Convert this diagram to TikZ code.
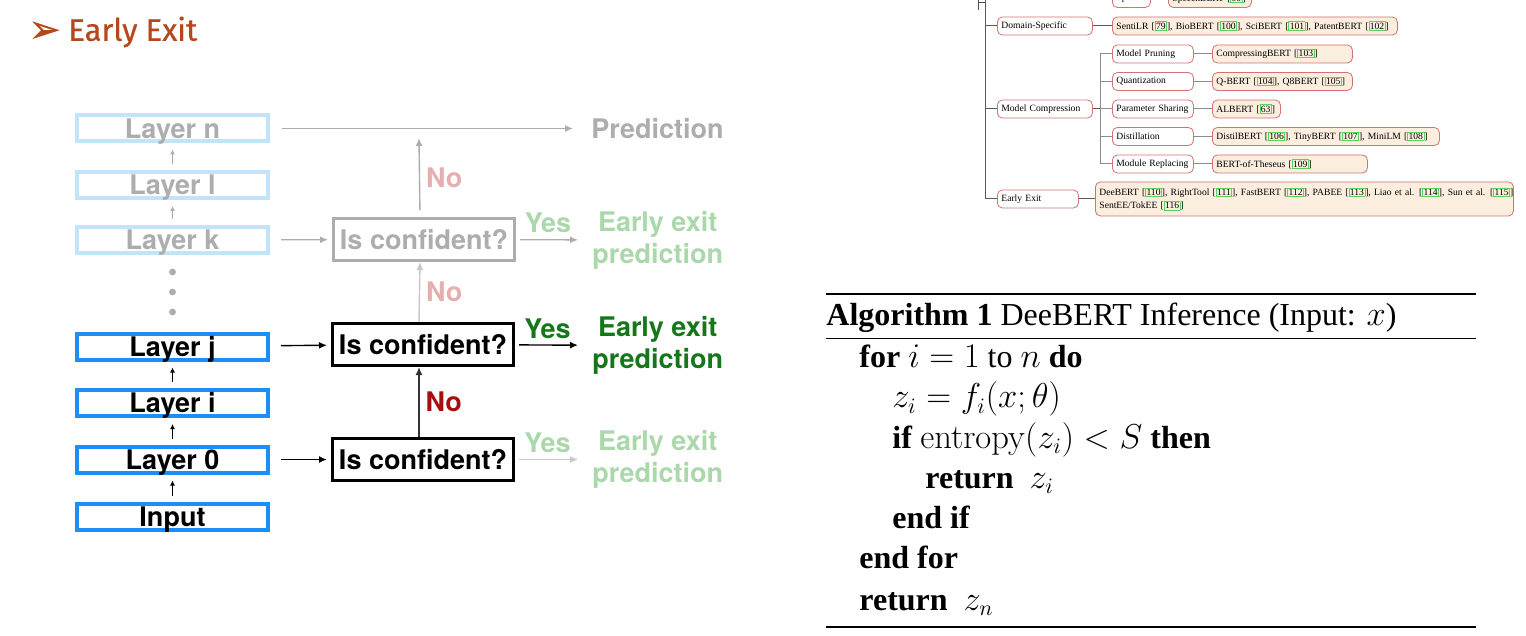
\documentclass[tikz,border=0pt]{standalone}
\usepackage{amssymb,amsmath}
\usepackage[no-math]{fontspec}
\setmainfont{Liberation Serif}
\newfontfamily\heros{TeX Gyre Heros}
\newfontfamily\titlefont[FakeBold=0.5]{Fira Sans}
\newfontfamily\dingfont[FakeBold=1]{DejaVu Sans}
\usetikzlibrary{positioning,arrows.meta}
\definecolor{layerblue}{HTML}{1C8EF5}
\definecolor{fadeblue}{HTML}{C2E3FA}
\definecolor{fadegray}{HTML}{ADADAD}
\definecolor{lightline}{HTML}{C8C8C8}
\definecolor{yesgreen}{HTML}{16761A}
\definecolor{fadegreen}{HTML}{ABD8AB}
\definecolor{nored}{HTML}{A50F0F}
\definecolor{fadered}{HTML}{E6AFAF}
\definecolor{titleorange}{HTML}{B5471B}
\definecolor{treered}{HTML}{D27272}
\definecolor{leaffill}{HTML}{FBEEDF}
\definecolor{linkgreen}{HTML}{55D455}
\newcommand\bigsans{\heros\bfseries\fontsize{13.5}{16}\selectfont}
\newcommand\treefont{\fontsize{4.8}{6.8}\selectfont}
\newcommand\algfont{\fontsize{16}{20}\selectfont}
\newcommand\refnum[1]{[{\setlength\fboxsep{0.3pt}\setlength\fboxrule{0.35pt}\color{linkgreen}\fbox{\color{black}#1}}]}

\begin{document}
\begin{tikzpicture}[x=0.5pt, y=-0.5pt,
  layer/.style={draw=layerblue, line width=2pt, minimum width=95.5pt, minimum height=13pt, inner sep=0pt,
                text height=9.7pt, text depth=0pt, font=\bigsans},
  fadelayer/.style={layer, draw=fadeblue, text=fadegray},
  check/.style={draw=black, line width=1.5pt, minimum width=90.5pt, minimum height=21pt, inner sep=0pt,
                text height=9.7pt, text depth=0pt, font=\bigsans},
  fadecheck/.style={check, draw=fadegray, text=fadegray},
  word/.style={inner sep=0pt, font=\bigsans},
  arr/.style={-{Latex[length=4pt,width=3.5pt]}, line width=0.7pt},
  uparr/.style={-{Latex[length=2.5pt,width=2.5pt]}, line width=0.6pt, shorten <=3pt, shorten >=3pt},
  cat/.style={draw=treered, line width=0.4pt, rounded corners=2.5pt, fill=white, font=\treefont,
              minimum height=9pt, inner xsep=2pt, inner ysep=0pt, anchor=west, text width=#1, align=left},
  leaf/.style={cat=#1, fill=leaffill},
  trunk/.style={draw=black!65, line width=0.5pt},
  twig/.style={draw=black!45, line width=0.5pt},
  algline/.style={anchor=base west, inner sep=0pt, font=\algfont}
]
\useasboundingbox (0,0) rectangle (1526,636);
\clip (0,0) rectangle (1526,636);
\fill[white] (0,0) rectangle (1526,636);

% title
\node[anchor=west, inner sep=0pt, text=titleorange, font=\titlefont\fontsize{15.5}{15.5}\selectfont] (title) at (68,32) {Early Exit};
\node[left=3.5pt of title, inner sep=0pt, text=titleorange, font=\dingfont\fontsize{19}{19}\selectfont] (bullet) {➢};

% layer stack
\node[fadelayer] (ln) at (172.5,128.5) {Layer n};
\node[fadelayer] (ll) at (172.5,185) {Layer l};
\node[fadelayer] (lk) at (172.5,240) {Layer k};
\node[layer] (lj) at (172.5,346.5) {Layer j};
\node[layer] (li) at (172.5,403) {Layer i};
\node[layer] (l0) at (172.5,459.5) {Layer 0};
\node[layer] (lin) at (172.5,516.5) {Input};
\draw[uparr, fadegray] (ll) -- (ln);
\draw[uparr, fadegray] (lk) -- (ll);
\draw[uparr] (li) -- (lj);
\draw[uparr] (l0) -- (li);
\draw[uparr] (lin) -- (l0);
\foreach \y in {272,292,312}
  \fill[fadegray] (172.5,\y) circle (1.7pt);

% exits
\node[fadecheck] (ck) at (424,239.5) {Is confident?};
\node[check] (cj) at (423,344.5) {Is confident?};
\node[check] (c0) at (423,459.5) {Is confident?};
\node[word, anchor=west, text=fadegray] (pred) at (591,128.5) {Prediction};
\node[word, anchor=west, align=center, text=fadegreen] (ek) at (592,240) {Early exit\\prediction};
\node[word, anchor=west, align=center, text=yesgreen] (ej) at (592,345.5) {Early exit\\prediction};
\node[word, anchor=west, align=center, text=fadegreen] (e0) at (592,459.5) {Early exit\\prediction};
\coordinate (nostop) at (419,138);

\draw[arr, fadegray, shorten <=6pt, shorten >=9pt] (ln) -- (pred);
\draw[arr, fadegray, shorten <=5.5pt, shorten >=2pt] (lk) -- (ck);
\draw[arr, shorten <=5.5pt, shorten >=2pt] (lj) -- (cj);
\draw[arr, shorten <=5.5pt, shorten >=2pt] (l0) -- (c0);

\draw[arr, fadegray, shorten <=3.5pt] ([xshift=-2pt]ck.north) -- (nostop)
  node[midway, right=3pt, word, text=fadered] {No};
\draw[arr, lightline] ([xshift=-2pt]cj.north) -- ([xshift=-2pt]ck.south)
  node[midway, right=3pt, word, text=fadered] {No};
\draw[arr, black!80] ([xshift=-2pt]c0.north) -- ([xshift=-2pt]cj.south)
  node[midway, right=3pt, word, text=nored] {No};

\draw[arr, fadegray, shorten <=2pt, shorten >=7pt] (ck) -- (ek)
  node[midway, above=3pt, word, xshift=-3pt, text=fadegreen] {Yes};
\draw[arr, shorten <=2pt, shorten >=7pt] (cj) -- (ej)
  node[midway, above=3pt, word, xshift=-3pt, text=yesgreen] {Yes};
\draw[arr, lightline, shorten <=2pt, shorten >=7pt] (c0) -- (e0)
  node[midway, above=3pt, word, xshift=-3pt, text=fadegreen] {Yes};

% taxonomy
\coordinate (stem) at (985,0);
\coordinate (fork) at (1100,0);
\draw[draw=black!70, line width=0.5pt] (978,0) -- (978,10) (978,3) -- (985,3);
\node[cat=15pt] (sp) at (1112,-1.5) {Speech};
\node[leaf=37.5pt] (spb) at (1168,-1.5) {\mbox{SpeechBERT \refnum{99}}};
\node[cat=43.5pt] (ds) at (997,26) {Domain-Specific};
\node[leaf=138.5pt] (dsl) at (1112,26) {\mbox{SentiLR \refnum{79}, BioBERT \refnum{100}, SciBERT \refnum{101}, PatentBERT \refnum{102}}};
\node[cat=43.5pt] (mc) at (997,109) {Model Compression};
\node[cat=36.5pt] (mp) at (1112,54) {Model Pruning};
\node[cat=36.5pt] (qz) at (1112,81.5) {Quantization};
\node[cat=36.5pt] (ps) at (1112,109) {\mbox{Parameter Sharing}};
\node[cat=36.5pt] (dt) at (1112,136.5) {Distillation};
\node[cat=36.5pt] (mr) at (1112,164) {\mbox{Module Replacing}};
\node[leaf=66pt] (mpl) at (1212,54) {\mbox{CompressingBERT \refnum{103}}};
\node[leaf=66pt] (qzl) at (1212,81.5) {\mbox{Q-BERT \refnum{104}, Q8BERT \refnum{105}}};
\node[leaf=30pt] (psl) at (1212,109) {\mbox{ALBERT \refnum{63}}};
\node[leaf=109.5pt] (dtl) at (1212,136.5) {\mbox{DistilBERT \refnum{106}, TinyBERT \refnum{107}, MiniLM \refnum{108}}};
\node[leaf=73.5pt] (mrl) at (1212,164) {\mbox{BERT-of-Theseus \refnum{109}}};
\node[cat=36.5pt] (ee) at (997,199) {Early Exit};
\node[leaf=205pt, minimum height=17pt] (eel) at (1095,199) {\mbox{DeeBERT \refnum{110}, RightTool \refnum{111}, FastBERT \refnum{112}, PABEE \refnum{113}, Liao et al. \refnum{114}, Sun et al. \refnum{115}}\\SentEE/TokEE \refnum{116}};

\draw[trunk] (stem) |- (ee.west);
\draw[trunk] (stem |- ds) -- (ds.west);
\draw[trunk] (stem |- mc) -- (mc.west);
\draw[trunk] (ds) -- (dsl);
\draw[trunk] (ee) -- (eel);
\draw[trunk] (mc.east) -- (fork |- mc);
\draw[twig] (mp.west) -| (fork |- mr) -- (mr.west);
\draw[twig] (fork |- qz) -- (qz.west);
\draw[twig] (fork |- ps) -- (ps.west);
\draw[twig] (fork |- dt) -- (dt.west);
\draw[twig] (mp) -- (mpl);
\draw[twig] (qz) -- (qzl);
\draw[twig] (ps) -- (psl);
\draw[twig] (dt) -- (dtl);
\draw[twig] (mr) -- (mrl);

% algorithm
\draw[line width=1pt] (826,294) -- (1476,294);
\draw[line width=0.5pt] (826,338) -- (1476,338);
\draw[line width=1pt] (826,627) -- (1476,627);
\node[algline] (acap) at (826,326) {\textbf{Algorithm 1} DeeBERT Inference (Input: $x$)};
\node[algline] (afor) at (859,367) {\textbf{for} $i = 1$ to $n$ \textbf{do}};
\node[algline] (az) at (892,408) {$z_i = f_i(x;\theta)$};
\node[algline] (aif) at (892,448) {\textbf{if} $\mathrm{entropy}(z_i) < S$ \textbf{then}};
\node[algline] (aret) at (925,488) {\textbf{return}\enspace$z_i$};
\node[algline] (aendif) at (892,528) {\textbf{end if}};
\node[algline] (aendfor) at (859,568) {\textbf{end for}};
\node[algline] (aretn) at (859,610) {\textbf{return}\enspace$z_n$};
\end{tikzpicture}
\end{document}
